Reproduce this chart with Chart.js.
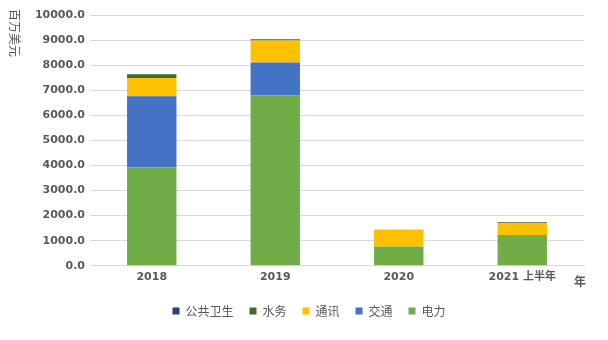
<!DOCTYPE html>
<html>
<head>
<meta charset="utf-8">
<script src="https://cdn.jsdelivr.net/npm/chart.js@4/dist/chart.umd.min.js"></script>
<style>
  html, body { margin: 0; padding: 0; background: #fff; }
  #wrap { width: 608px; height: 340px; }
</style>
</head>
<body>
<div id="wrap"><canvas id="chart" width="608" height="340"></canvas></div>
<script>
const years = ["2018", "2019", "2020", "2021 上半年"];
const power = [3930, 6800, 770, 1200];
const transport = [2830, 1310, 0, 30];
const telecom = [730, 870, 680, 480];
const water = [150, 55, 0, 30];
const health = [0, 0, 0, 0];
const yTicks = [0, 1000, 2000, 3000, 4000, 5000, 6000, 7000, 8000, 9000, 10000];

const textGray = "#595959";
const fontFamily = "'DejaVu Sans', 'Noto Sans CJK SC', sans-serif";

// axis titles drawn by hand: y title reads top to bottom, x title sits at the right end
const axisTitles = {
  id: "axisTitles",
  afterLayout(chart) {
    // legend in the reference sits a bit right of centre
    chart.legend.left += 17;
    chart.legend.right += 17;
  },
  afterDraw(chart) {
    const ctx = chart.ctx;
    ctx.save();
    ctx.fillStyle = textGray;
    ctx.font = "12px 'Noto Sans CJK SC', sans-serif";
    ctx.translate(15, 33);
    ctx.rotate(Math.PI / 2);
    ctx.textAlign = "center";
    ctx.textBaseline = "middle";
    ctx.fillText("百万美元", 0, 0);
    ctx.restore();

    ctx.save();
    ctx.fillStyle = textGray;
    ctx.font = "bold 12px 'Noto Sans CJK SC', sans-serif";
    ctx.textAlign = "center";
    ctx.textBaseline = "middle";
    ctx.fillText("年", 580, 281);
    ctx.restore();
  }
};

const ctx = document.getElementById("chart").getContext("2d");
new Chart(ctx, {
  type: "bar",
  data: {
    labels: years,
    datasets: [
      { label: "电力", data: power, backgroundColor: "#70AD47" },
      { label: "交通", data: transport, backgroundColor: "#4472C4" },
      { label: "通讯", data: telecom, backgroundColor: "#FFC000" },
      { label: "水务", data: water, backgroundColor: "#43682B" },
      { label: "公共卫生", data: health, backgroundColor: "#264478" },
    ],
  },
  options: {
    responsive: false,
    animation: false,
    layout: { padding: { left: 0, right: 24, top: 15, bottom: 13 } },
    datasets: { bar: { barPercentage: 0.4, categoryPercentage: 1 } },
    scales: {
      x: {
        stacked: true,
        grid: { display: false, drawTicks: false },
        border: { color: "#d9d9d9" },
        ticks: {
          color: textGray,
          font: { family: fontFamily, size: 11, weight: "bold" },
          padding: 5,
        },
      },
      y: {
        stacked: true,
        min: 0,
        max: 10000,
        afterBuildTicks: (axis) => {
          axis.ticks = yTicks.map((v) => ({ value: v }));
        },
        afterFit: (axis) => {
          axis.width = 90;
        },
        grid: { color: "#d9d9d9", drawTicks: false },
        border: { display: false },
        ticks: {
          color: textGray,
          font: { family: fontFamily, size: 11, weight: "bold" },
          padding: 5,
          callback: (v) => v.toFixed(1),
        },
      },
    },
    plugins: {
      legend: {
        position: "bottom",
        reverse: true,
        labels: {
          boxWidth: 7,
          boxHeight: 7,
          padding: 16,
          color: textGray,
          font: { family: "'Noto Sans CJK SC', sans-serif", size: 12 },
        },
      },
      tooltip: { enabled: false },
    },
  },
  plugins: [axisTitles],
});
</script>
</body>
</html>
